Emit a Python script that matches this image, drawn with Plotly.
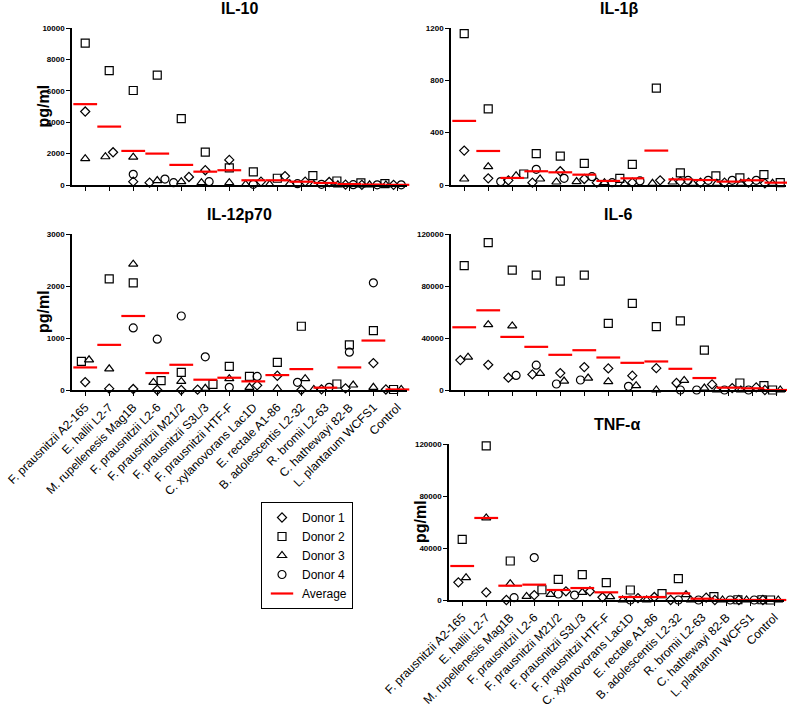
import plotly.graph_objects as go

categories = ["F. prausnitzii A2-165", "E. hallii L2-7", "M. rupellenesis Mag1B",
              "F. prausnitzii L2-6", "F. prausnitzii M21/2", "F. prausnitzii S3L/3",
              "F. prausnitzii HTF-F", "C. xylanovorans Lac1D", "E. rectale A1-86",
              "B. adolescentis L2-32", "R. bromii L2-63", "C. hathewayi 82-B",
              "L. plantarum WCFS1", "Control"]
donor_names = ["Donor 1", "Donor 2", "Donor 3", "Donor 4"]

# IL-10
il10_d1 = [4680, 2085, 210, 150, 510, 940, 1600, 210, 570, 210, 190, 20, 10, 10]
il10_d2 = [9040, 7280, 6020, 7000, 4230, 2100, 1085, 830, 430, 600, 255, 130, 85, 20]
il10_d3 = [1680, 1800, 1770, 280, 210, 150, 150, 40, 40, 85, 40, 10, 10, 5]
il10_d4 = [None, None, 680, 380, 150, 210, None, 40, None, 85, 40, 20, 10, 10]
il10_avg = [5150, 3720, 2170, 2000, 1280, 850, 940, 300, 300, 210, 130, 60, 30, 10]

# IL-1beta
il1b_d1 = [263, 51, 35, 18, 105, 46, 18, 18, 36, 26, 18, 18, 18, 13]
il1b_d2 = [1157, 582, 84, 240, 220, 166, 51, 158, 740, 92, 69, 54, 79, 18]
il1b_d3 = [46, 140, 71, 46, 23, 26, 18, 8, 13, 23, 13, 13, 13, 13]
il1b_d4 = [None, None, 26, 120, 51, 64, 18, 31, None, 36, 36, 36, 36, 33]
il1b_avg = [490, 260, 54, 105, 97, 79, 31, 51, 263, 43, 38, 26, 36, 18]

# IL-12p70
il12_d1 = [153, 26, 19, 0, 0, 6, None, 89, 274, 0, 13, 32, 517, 10]
il12_d2 = [549, 2138, 2062, 179, 338, 108, 453, 262, 530, 1226, 115, 868, 1143, 10]
il12_d3 = [581, 408, 2419, 147, 166, 32, 217, 51, 26, 217, 10, 96, 51, 10]
il12_d4 = [None, None, 1194, 977, 1423, 638, 51, 262, None, 147, 51, 728, 2062, 10]
il12_avg = [434, 868, 1423, 326, 485, 198, 236, 166, 287, 402, 45, 434, 951, 10]

# IL-6
il6_d1 = [23000, 19400, 9450, 12000, 13000, 17600, 16600, 11000, 16800, 5400, 4300, 1500, 2000, 0]
il6_d2 = [95700, 113400, 92200, 88300, 83700, 88300, 51300, 66600, 48800, 53100, 30600, 5400, 3300, 0]
il6_d3 = [25300, 50300, 49300, 12800, 6900, 9200, 6400, 3300, 0, 7400, 1500, 0, 0, 0]
il6_d4 = [None, None, 11200, 19100, 4600, 7700, None, 2800, None, 0, 0, 0, 0, 0]
il6_avg = [48250, 61300, 40850, 33200, 27060, 30600, 25000, 20900, 21950, 16300, 9200, 1800, 1300, 0]

# TNF-alpha
tnf_d1 = [13600, 5900, 0, 3800, 6700, 6700, 2100, 1500, 2300, 0, 1800, 0, 0, 0]
tnf_d2 = [46700, 118500, 30000, 7900, 15900, 19500, 13300, 7700, 4900, 16400, 2600, 200, 200, 0]
tnf_d3 = [17200, 63100, 12600, 2800, 4400, 5900, 2600, 0, 0, 4100, 0, 0, 0, 0]
tnf_d4 = [None, None, 1800, 32600, 4600, 3800, None, 0, None, 0, 0, 0, 0, 0]
tnf_avg = [26150, 63100, 11000, 11800, 7700, 9200, 5900, 2300, 2300, 5100, 1000, 100, 50, 0]

W, H = 787, 709
FONT = "Arial, Liberation Sans, sans-serif"
symbols = ["diamond-open", "square-open", "triangle-up-open", "circle-open"]
sizes = [7, 8, 8, 8]

panels = [
    dict(title="IL-10", donors=[il10_d1, il10_d2, il10_d3, il10_d4], avg=il10_avg,
         ymax=10000, dtick=2000, x0=72, ytop=28, ybot=185, xlabels=False, ytitle=True),
    dict(title="IL-1β", donors=[il1b_d1, il1b_d2, il1b_d3, il1b_d4], avg=il1b_avg,
         ymax=1200, dtick=400, x0=451, ytop=28, ybot=185, xlabels=False, ytitle=False),
    dict(title="IL-12p70", donors=[il12_d1, il12_d2, il12_d3, il12_d4], avg=il12_avg,
         ymax=3000, dtick=1000, x0=72, ytop=234, ybot=390, xlabels=True, ytitle=True),
    dict(title="IL-6", donors=[il6_d1, il6_d2, il6_d3, il6_d4], avg=il6_avg,
         ymax=120000, dtick=40000, x0=451, ytop=234, ybot=390, xlabels=False, ytitle=False),
    dict(title="TNF-α", donors=[tnf_d1, tnf_d2, tnf_d3, tnf_d4], avg=tnf_avg,
         ymax=120000, dtick=40000, x0=449, ytop=444, ybot=600, xlabels=True, ytitle=True),
]

XR = [-0.55, 13.4]
PW = 335  # panel width px


def spread_offsets(panel):
    """Horizontal offsets so overlapping points are spread (like scatter dot plots)."""
    n = len(categories)
    pxu = (panel["ybot"] - panel["ytop"]) / panel["ymax"]
    offs = [[0.0] * n for _ in range(4)]
    for c in range(n):
        pts = [(panel["donors"][d][c], d) for d in range(4) if panel["donors"][d][c] is not None]
        pts.sort()
        groups, cur = [], []
        for v, d in pts:
            if cur and (v - cur[-1][0]) * pxu >= 7:
                groups.append(cur)
                cur = []
            cur.append((v, d))
        if cur:
            groups.append(cur)
        for g in groups:
            k = len(g)
            for i, (v, d) in enumerate(g):
                offs[d][c] = (i - (k - 1) / 2) * 0.32
    return offs


fig = go.Figure()
annotations = []
layout = {}
for pi, p in enumerate(panels):
    ax = "" if pi == 0 else str(pi + 1)
    xd = [p["x0"] / W, (p["x0"] + PW) / W]
    yd = [1 - p["ybot"] / H, 1 - p["ytop"] / H]
    layout["xaxis" + ax] = dict(
        domain=xd, anchor="y" + ax, range=XR, showgrid=False, zeroline=False,
        showline=True, linecolor="black", linewidth=1.5, ticks="outside",
        ticklen=4, tickwidth=1.2, tickcolor="black",
        tickvals=list(range(len(categories))),
        ticktext=categories if p["xlabels"] else [""] * len(categories),
        tickangle=-45, tickfont=dict(family=FONT, size=12, color="black"),
        fixedrange=True, automargin=False,
    )
    layout["yaxis" + ax] = dict(
        domain=yd, anchor="x" + ax, range=[0, p["ymax"]], dtick=p["dtick"],
        showgrid=False, zeroline=False, showline=True, linecolor="black",
        linewidth=1.5, ticks="outside", ticklen=4, tickwidth=1.2, tickcolor="black",
        tickfont=dict(family=FONT, size=8, color="black", weight="bold"),
        tickformat="d", fixedrange=True, automargin=False,
    )
    annotations.append(dict(
        text="<b>%s</b>" % p["title"], xref="paper", yref="paper",
        x=(p["x0"] + PW / 2) / W,
        y=1 - (p["ytop"] - 19) / H, xanchor="center", yanchor="middle",
        showarrow=False, borderpad=0,
        font=dict(family=FONT, size=16, color="black")))
    if p["ytitle"]:
        annotations.append(dict(
            text="<b>pg/ml</b>", xref="paper", yref="paper",
            x=(p["x0"] - 29) / W, y=1 - ((p["ytop"] + p["ybot"]) / 2) / H,
            xanchor="center", yanchor="middle", textangle=-90, showarrow=False,
            font=dict(family=FONT, size=16, color="black")))

    offs = spread_offsets(p)
    for d in range(4):
        xs = [c + offs[d][c] for c in range(len(categories))]
        fig.add_trace(go.Scatter(
            x=xs, y=p["donors"][d], mode="markers", name=donor_names[d],
            legendgroup=donor_names[d], showlegend=(pi == 0), cliponaxis=False,
            xaxis="x" + ax, yaxis="y" + ax,
            marker=dict(symbol=symbols[d], size=sizes[d], color="black",
                        line=dict(width=1.2, color="black")),
            hoverinfo="skip"))
    fig.add_trace(go.Scatter(
        x=list(range(len(categories))), y=p["avg"], mode="markers", name="Average",
        legendgroup="Average", showlegend=(pi == 0), cliponaxis=False,
        xaxis="x" + ax, yaxis="y" + ax,
        marker=dict(symbol="line-ew", size=17, color="red",
                    line=dict(width=2.2, color="red")),
        hoverinfo="skip"))

fig.update_layout(**layout)
fig.update_layout(
    width=W, height=H, margin=dict(l=0, r=0, t=0, b=0, autoexpand=False),
    paper_bgcolor="white", plot_bgcolor="white",
    annotations=annotations,
    showlegend=True,
    legend=dict(x=261 / W, y=1 - 502 / H, xanchor="left", yanchor="top",
                bordercolor="black", borderwidth=1, bgcolor="white",
                font=dict(family=FONT, size=12, color="black"),
                tracegroupgap=0, itemwidth=30),
)
fig.write_html("out.html", config={"displayModeBar": False},
               post_script="document.body.style.margin='0';")
